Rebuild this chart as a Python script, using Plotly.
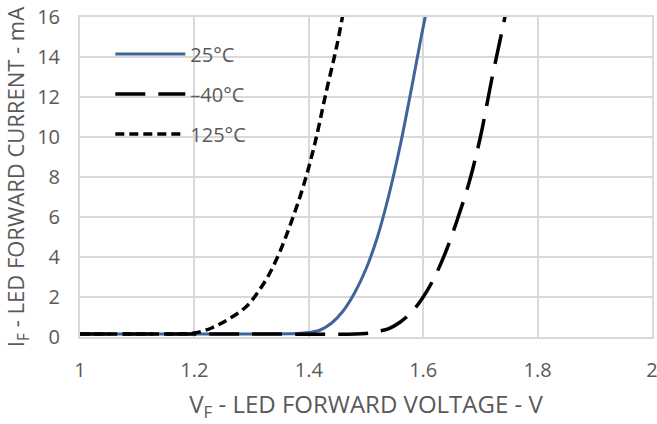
import plotly.graph_objects as go

# 25°C
v_25 = [1.00, 1.20, 1.30, 1.38, 1.40, 1.42, 1.44, 1.46, 1.48, 1.50, 1.52, 1.54, 1.56, 1.58, 1.60, 1.615]
i_25 = [0.15, 0.15, 0.15, 0.17, 0.22, 0.35, 0.70, 1.30, 2.20, 3.40, 5.00, 7.10, 9.60, 12.50, 15.50, 17.5]

# -40°C
v_m40 = [1.00, 1.30, 1.50, 1.52, 1.54, 1.56, 1.58, 1.60, 1.62, 1.64, 1.66, 1.68, 1.70, 1.72, 1.74, 1.75]
i_m40 = [0.15, 0.15, 0.18, 0.28, 0.42, 0.75, 1.25, 2.00, 3.00, 4.30, 5.90, 7.70, 10.00, 12.90, 15.60, 17.0]

# 125°C
v_125 = [1.00, 1.10, 1.17, 1.20, 1.23, 1.26, 1.29, 1.31, 1.33, 1.35, 1.37, 1.39, 1.41, 1.43, 1.45, 1.465]
i_125 = [0.15, 0.15, 0.16, 0.20, 0.45, 0.90, 1.50, 2.20, 3.10, 4.30, 5.80, 7.50, 9.60, 12.20, 14.70, 17.0]

x_ticks = [1, 1.2, 1.4, 1.6, 1.8, 2]
y_ticks = [0, 2, 4, 6, 8, 10, 12, 14, 16]

FONT = "Open Sans"
GRAY = "#595959"
GRID = "#d9d9d9"

fig = go.Figure()
fig.add_trace(go.Scatter(x=v_25, y=i_25, mode="lines", name="25°C", legendgroup="a",
                         line=dict(color="#3f6499", width=3, shape="spline")))
fig.add_trace(go.Scatter(x=v_m40, y=i_m40, mode="lines", name="–40°C", legendgroup="b",
                         line=dict(color="black", width=3.5, dash="30px,13px", shape="spline")))
fig.add_trace(go.Scatter(x=v_125, y=i_125, mode="lines", name="125°C", legendgroup="c",
                         line=dict(color="black", width=3.5, dash="9px,5px", shape="spline")))

fig.update_layout(
    width=657, height=424,
    margin=dict(l=80, r=5, t=17, b=87),
    paper_bgcolor="white", plot_bgcolor="white",
    font=dict(family=FONT, size=20, color=GRAY),
    showlegend=True,
    legend=dict(x=0.053, y=0.945, xanchor="left", yanchor="top",
                bgcolor="rgba(0,0,0,0)", font=dict(size=20, color=GRAY),
                itemwidth=70, tracegroupgap=11),
    xaxis=dict(range=[1, 2], tickvals=x_ticks, ticktext=[str(t) for t in x_ticks],
               showgrid=True, gridcolor=GRID, gridwidth=2,
               showline=True, linecolor=GRID, linewidth=2, mirror=True,
               zeroline=False, ticks="", ticklabelstandoff=14, automargin=False,
               ticklabeloverflow="allow",
               title=dict(text="V<sub>F</sub> - LED FORWARD VOLTAGE - V",
                          font=dict(size=24, color=GRAY), standoff=14)),
    yaxis=dict(range=[0, 16], tickvals=y_ticks,
               showgrid=True, gridcolor=GRID, gridwidth=2,
               showline=True, linecolor=GRID, linewidth=2, mirror=True,
               zeroline=False, ticks="", ticklabelstandoff=14, automargin=False,
               ticklabeloverflow="allow",
               title=dict(text="I<sub>F</sub> - LED FORWARD CURRENT - mA",
                          font=dict(size=22, color=GRAY), standoff=8)),
)

fig.write_html("out.html")
